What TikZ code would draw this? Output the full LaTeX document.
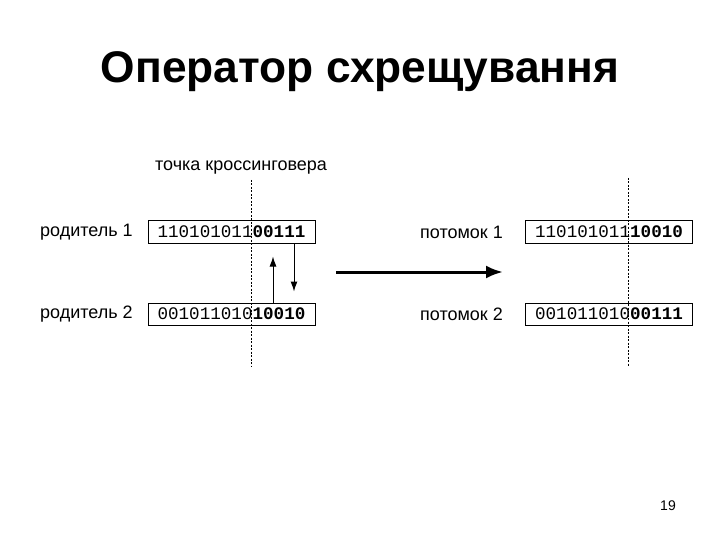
\documentclass[tikz,border=0pt]{standalone}
\usepackage{fontspec}
\setmainfont{Liberation Sans}
\newfontfamily\monof{Liberation Mono}
\usetikzlibrary{arrows.meta}
\begin{document}
\begin{tikzpicture}[x=1pt,y=-1pt,
  bitbox/.style={draw,line width=1pt,minimum width=167pt,minimum height=22pt,inner sep=0pt,font=\monof\fontsize{17.6}{20}\selectfont},
  lbl/.style={inner sep=0pt,font=\fontsize{18}{20}\selectfont},
  cut/.style={line width=0.9pt,dash pattern=on 2pt off 1.5pt},
  thin arrow/.style={line width=1pt,-{Latex[length=10pt,width=7pt]}}
]
\useasboundingbox (0,0) rectangle (720,540);
\node[inner sep=0pt,font=\bfseries\fontsize{44.3}{50}\selectfont] (title) at (360,72) {Оператор схрещування};
\node[lbl] (tk) at (241,168) {точка кроссинговера};
\node[lbl,anchor=west] (r1) at (40,232) {родитель 1};
\node[lbl,anchor=west] (r2) at (40,314) {родитель 2};
\node[lbl,anchor=east] (c1) at (503,232) {потомок 1};
\node[lbl,anchor=east] (c2) at (503,314) {потомок 2};
\node[bitbox] (b1) at (231.5,232) {110101011\textbf{00111}};
\node[bitbox] (b2) at (231.5,314) {001011010\textbf{10010}};
\node[bitbox] (b3) at (609,232) {110101011\textbf{10010}};
\node[bitbox] (b4) at (609,314) {001011010\textbf{00111}};
\coordinate (d1t) at (251,180);
\coordinate (d1b) at (251,366);
\coordinate (d2t) at (628,178);
\coordinate (d2b) at (628,366);
\draw[cut] (d1t) -- (d1b);
\draw[cut] (d2t) -- (d2b);
\draw[thin arrow,shorten >=13pt] (b2.north -| 273,0) -- (b1.south -| 273,0);
\draw[thin arrow,shorten >=11pt] (b1.south -| 294,0) -- (b2.north -| 294,0);
\coordinate (ma) at (336,272);
\coordinate (mb) at (503,272);
\draw[line width=3pt,-{Latex[length=17pt,width=13pt]}] (ma) -- (mb);
\node[inner sep=0pt,font=\fontsize{14}{16}\selectfont] (pg) at (668,506) {19};
\end{tikzpicture}
\end{document}
